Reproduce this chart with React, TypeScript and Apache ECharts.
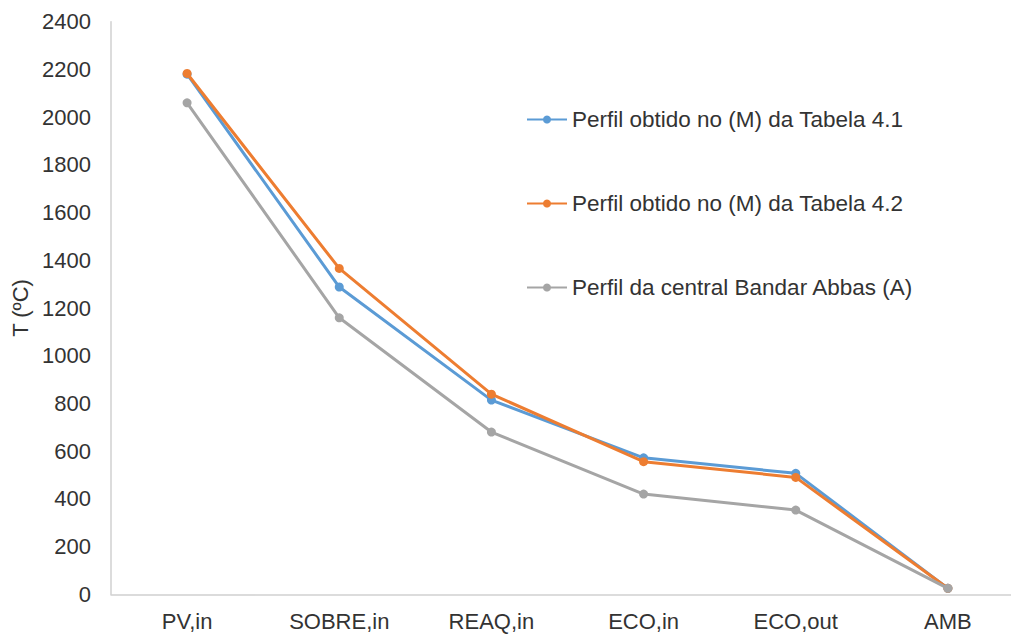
import React, { useEffect, useRef } from "react";
import * as echarts from "echarts";

// Temperature profile along the gas path (ºC)
const categories = ["PV,in", "SOBRE,in", "REAQ,in", "ECO,in", "ECO,out", "AMB"];
const perfilTabela41 = [2180, 1288, 814, 572, 507, 25];
const perfilTabela42 = [2183, 1366, 839, 556, 490, 25];
const perfilBandarAbbas = [2060, 1159, 680, 420, 353, 25];

const seriesNames = [
  "Perfil obtido no (M) da Tabela 4.1",
  "Perfil obtido no (M) da Tabela 4.2",
  "Perfil da central Bandar Abbas (A)",
];
const seriesColors = ["#5B9BD5", "#ED7D31", "#A5A5A5"];

const FONT = "'Liberation Sans', Arial, sans-serif";
const TEXT_COLOR = "#333333";

export default function App() {
  const ref = useRef<HTMLDivElement>(null);

  useEffect(() => {
    // the plot area runs a little past the right edge of the window
    document.body.style.margin = "0";
    document.body.style.overflow = "hidden";
    if (!ref.current) return;
    const chart = echarts.init(ref.current, undefined, { renderer: "svg" });

    const values = [perfilTabela41, perfilTabela42, perfilBandarAbbas];

    chart.setOption({
      animation: false,
      backgroundColor: "#ffffff",
      textStyle: { fontFamily: FONT },
      grid: { left: 111, right: 1, top: 21.7, bottom: 39.7, containLabel: false },
      legend: {
        orient: "vertical",
        left: 526,
        top: 108,
        padding: 0,
        itemWidth: 40,
        itemHeight: 10,
        itemGap: 61,
        textStyle: { fontSize: 22.5, color: TEXT_COLOR, fontFamily: FONT },
        data: seriesNames,
      },
      xAxis: {
        type: "category",
        data: categories,
        boundaryGap: true,
        axisLine: { show: true, lineStyle: { color: "#D0D0D0", width: 1.5 } },
        axisTick: { show: false },
        axisLabel: { fontSize: 22, color: TEXT_COLOR, margin: 16, fontFamily: FONT },
        splitLine: { show: false },
      },
      yAxis: {
        type: "value",
        min: 0,
        max: 2400,
        interval: 200,
        name: "T (ºC)",
        nameLocation: "middle",
        nameGap: 73,
        nameRotate: 90,
        nameTextStyle: { fontSize: 22, color: TEXT_COLOR, fontFamily: FONT },
        axisLine: { show: true, lineStyle: { color: "#D0D0D0", width: 1.5 } },
        axisTick: { show: false },
        axisLabel: {
          fontSize: 22,
          color: TEXT_COLOR,
          margin: 20,
          fontFamily: FONT,
          formatter: (v: number) => String(v),
        },
        splitLine: { show: false },
      },
      series: seriesNames.map((name, i) => ({
        name,
        type: "line",
        data: values[i],
        symbol: "circle",
        symbolSize: 9,
        color: seriesColors[i],
        lineStyle: { width: 3, color: seriesColors[i] },
        itemStyle: { color: seriesColors[i] },
        z: 2 + i,
      })),
    });

    return () => chart.dispose();
  }, []);

  return <div ref={ref} style={{ width: 1025, height: 634 }} />;
}
